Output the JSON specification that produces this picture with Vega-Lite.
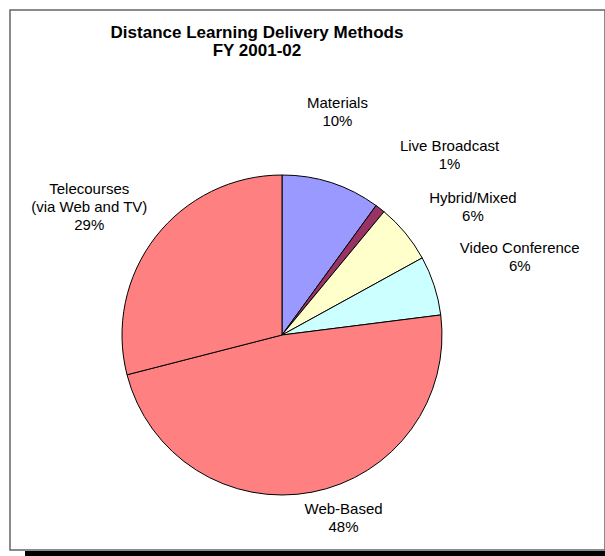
{
  "$schema": "https://vega.github.io/schema/vega-lite/v6.json",
  "padding": {"left": 9, "top": 9, "right": 0, "bottom": 0},
  "background": "white",
  "spacing": 0,
  "config": {"font": "Liberation Sans", "view": {"stroke": null}},
  "vconcat": [
    {
      "width": 595,
      "height": 540,
      "view": {"stroke": "#666666", "strokeWidth": 1.5, "fill": "white"},
      "title": {
        "text": ["Distance Learning Delivery Methods", "FY 2001-02"],
        "font": "Liberation Sans",
        "fontSize": 17,
        "fontWeight": "bold",
        "color": "black",
        "lineHeight": 18,
        "anchor": "start",
        "align": "center",
        "baseline": "top",
        "dx": 247,
        "offset": -50
      },
      "data": {
        "values": [
          {"rank": 1, "method": "Materials", "share": 10},
          {"rank": 2, "method": "Live Broadcast", "share": 1},
          {"rank": 3, "method": "Hybrid/Mixed", "share": 6},
          {"rank": 4, "method": "Video Conference", "share": 6},
          {"rank": 5, "method": "Web-Based", "share": 48},
          {"rank": 6, "method": "Telecourses\n(via Web and TV)", "share": 29}
        ]
      },
      "transform": [
        {"calculate": "datum.method + '\\n' + datum.share + '%'", "as": "label"}
      ],
      "encoding": {
        "theta": {"field": "share", "type": "quantitative", "stack": true},
        "order": {"field": "rank", "type": "quantitative"}
      },
      "layer": [
        {
          "mark": {"type": "arc", "outerRadius": 160, "stroke": "black", "strokeWidth": 1},
          "encoding": {
            "x": {"value": 272},
            "y": {"value": 325},
            "color": {
              "field": "method",
              "type": "nominal",
              "legend": null,
              "scale": {
                "domain": ["Materials", "Live Broadcast", "Hybrid/Mixed", "Video Conference", "Web-Based", "Telecourses\n(via Web and TV)"],
                "range": ["#9999FF", "#993366", "#FFFFCC", "#CCFFFF", "#FF8080", "#FF8080"]
              }
            }
          }
        },
        {
          "mark": {
            "type": "text",
            "font": "Liberation Sans",
            "fontSize": 15,
            "lineHeight": 18,
            "lineBreak": "\n",
            "align": "center",
            "baseline": "middle",
            "color": "black",
            "radius": {"expr": "datum.rank == 1 ? 228 : datum.rank == 2 ? 244 : datum.rank == 3 ? 227 : datum.rank == 4 ? 250 : datum.rank == 5 ? 195 : 230"},
            "dx": {"expr": "datum.rank == 1 ? -15 : datum.rank == 2 ? 18 : datum.rank == 3 ? 16 : datum.rank == 4 ? 0 : datum.rank == 5 ? 25 : -11"},
            "dy": {"expr": "datum.rank == 1 ? -15 : datum.rank == 2 ? 4 : datum.rank == 3 ? 8 : datum.rank == 4 ? -10 : datum.rank == 5 ? -18 : -5"}
          },
          "encoding": {
            "x": {"value": 272},
            "y": {"value": 325},
            "text": {"field": "label", "type": "nominal"}
          }
        }
      ]
    },
    {
      "spacing": 0,
      "hconcat": [
        {
          "width": 15,
          "height": 7,
          "view": {"stroke": null, "fill": "white"},
          "data": {"values": [{"k": 1}]},
          "mark": {"type": "rect", "opacity": 0},
          "encoding": {}
        },
        {
          "width": 581,
          "height": 7,
          "view": {"stroke": null, "fill": "black"},
          "data": {"values": [{"k": 1}]},
          "mark": {"type": "rect", "color": "black"},
          "encoding": {}
        }
      ]
    }
  ]
}
